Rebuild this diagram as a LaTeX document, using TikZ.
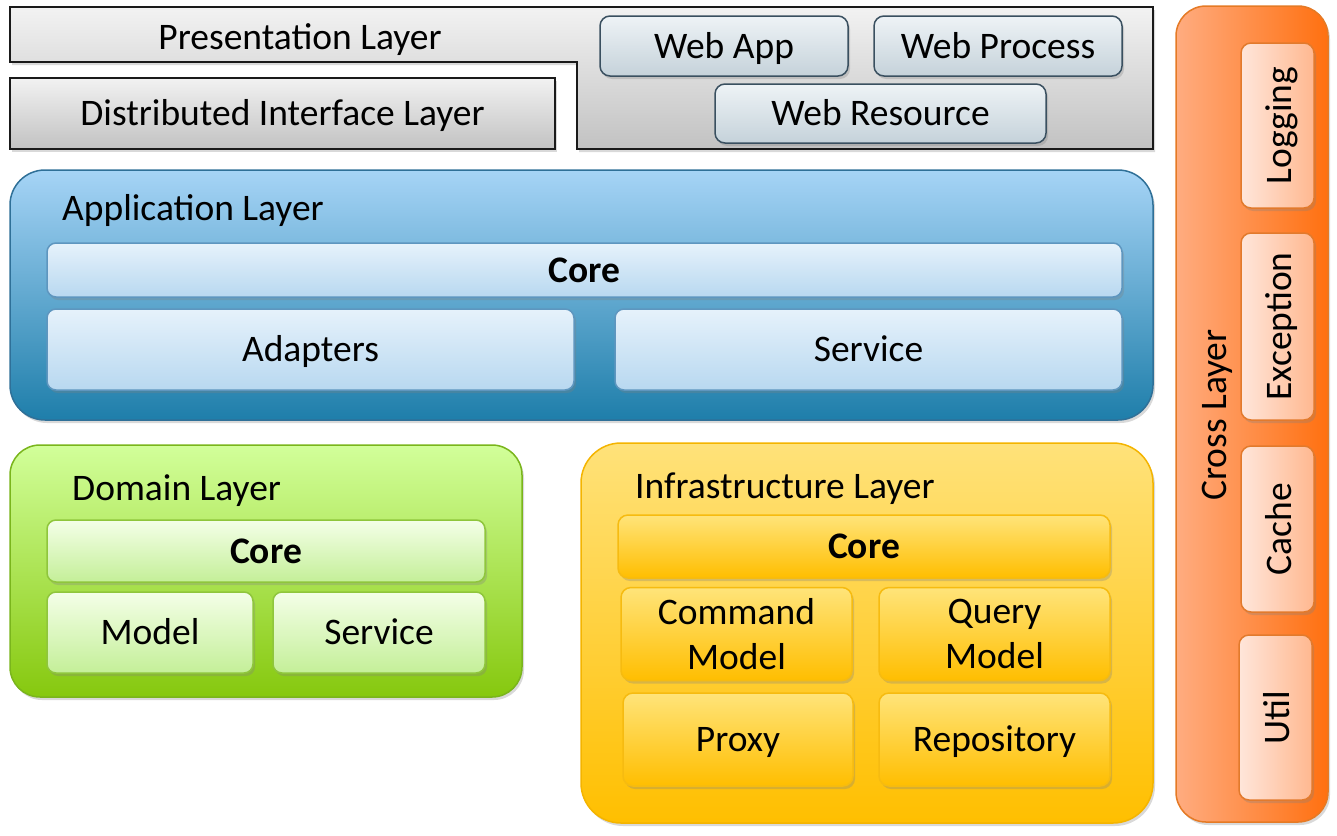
\documentclass[tikz,border=0pt]{standalone}
\usepackage{fontspec}
\setmainfont{Carlito}
\usetikzlibrary{shadows}
\definecolor{grayTop}{HTML}{F2F2F2}
\definecolor{grayBot}{HTML}{C2C2C2}
\definecolor{grayLine}{HTML}{1A1A1A}
\definecolor{webTop}{HTML}{EEF3F6}
\definecolor{webBot}{HTML}{C5D2DA}
\definecolor{webLine}{HTML}{3A5060}
\definecolor{appTop}{HTML}{A6D4F6}
\definecolor{appBot}{HTML}{1E7EAA}
\definecolor{appLine}{HTML}{2F7098}
\definecolor{appInTop}{HTML}{E6F2FB}
\definecolor{appInBot}{HTML}{B8D8F0}
\definecolor{appInLine}{HTML}{5E96BF}
\definecolor{domTop}{HTML}{D2FF9A}
\definecolor{domBot}{HTML}{86C80E}
\definecolor{domLine}{HTML}{7AB51C}
\definecolor{domInTop}{HTML}{F4FFE8}
\definecolor{domInBot}{HTML}{C4EF98}
\definecolor{domInLine}{HTML}{8FC63C}
\definecolor{infTop}{HTML}{FFE27A}
\definecolor{infBot}{HTML}{FFBF00}
\definecolor{infLine}{HTML}{F4B400}
\definecolor{infInTop}{HTML}{FFE47A}
\definecolor{infInBot}{HTML}{FFBE00}
\definecolor{infInLine}{HTML}{F6BB10}
\definecolor{crLeft}{HTML}{FFAC80}
\definecolor{crRight}{HTML}{FF7010}
\definecolor{crLine}{HTML}{E57A25}
\definecolor{crInLeft}{HTML}{FFE6DA}
\definecolor{crInRight}{HTML}{FFB890}
\definecolor{crInLine}{HTML}{E27A2C}
\tikzset{
  shd/.style={drop shadow={opacity=0.3,shadow xshift=2pt,shadow yshift=-3pt}},
  tfont/.style={font=\fontsize{37.5}{45}\selectfont, text=black, inner sep=0pt},
  txt/.style={tfont, text height=27pt, text depth=3pt},
  bfont/.style={font=\fontsize{37.5}{42}\selectfont\bfseries},
  grayshape/.style={shd, draw=grayLine, line width=1.5pt, top color=grayTop, bottom color=grayBot},
  webbox/.style={shd, draw=webLine, line width=1.5pt, rounded corners=10pt, top color=webTop, bottom color=webBot, txt},
  applayer/.style={shd, draw=appLine, line width=1.5pt, rounded corners=35pt, top color=appTop, bottom color=appBot},
  appbox/.style={shd, draw=appInLine, line width=1.5pt, rounded corners=9pt, top color=appInTop, bottom color=appInBot, txt},
  domlayer/.style={shd, draw=domLine, line width=1.5pt, rounded corners=30pt, top color=domTop, bottom color=domBot},
  dombox/.style={shd, draw=domInLine, line width=1.5pt, rounded corners=9pt, top color=domInTop, bottom color=domInBot, txt},
  inflayer/.style={shd, draw=infLine, line width=1.5pt, rounded corners=40pt, top color=infTop, bottom color=infBot},
  infshape/.style={shd, draw=infInLine, line width=1.5pt, rounded corners=10pt, top color=infInTop, bottom color=infInBot},
  infbox/.style={infshape, txt},
  infbox2/.style={infshape, tfont, align=center},
  crlayer/.style={shd, draw=crLine, line width=1.5pt, rounded corners=30pt, left color=crLeft, right color=crRight},
  crbox/.style={shd, draw=crInLine, line width=1.5pt, rounded corners=10pt, left color=crInLeft, right color=crInRight},
}
\begin{document}
\begin{tikzpicture}[x=1pt,y=-1pt]
\useasboundingbox (0,0) rectangle (1337,835);
% Presentation layer (stepped shape)
\path[grayshape] (10,7) -- (1153,7) -- (1153,149) -- (577,149) -- (577,62) -- (10,62) -- cycle;
\node[txt] (pres) at (300,37) {Presentation Layer};
\node[grayshape, minimum width=545pt, minimum height=71pt, txt] (dist) at (282.5,113.5) {Distributed Interface Layer};
\node[webbox, minimum width=248pt, minimum height=60pt] (webapp) at (724,46) {Web App};
\node[webbox, minimum width=248pt, minimum height=60pt] (webproc) at (998,46) {Web Process};
\node[webbox, minimum width=331pt, minimum height=59pt] (webres) at (880.5,113.5) {Web Resource};
% Application layer
\node[applayer, minimum width=1143pt, minimum height=250pt] (app) at (581.5,295) {};
\node[txt, anchor=west] (applbl) at (62,208) {Application Layer};
\node[appbox, minimum width=1075pt, minimum height=54pt, bfont] (appcore) at (584.5,270) {Core};
\node[appbox, minimum width=527pt, minimum height=81pt] (adapters) at (310.5,349.5) {Adapters};
\node[appbox, minimum width=507pt, minimum height=81pt] (appsvc) at (868.5,349.5) {Service};
% Domain layer
\node[domlayer, minimum width=512pt, minimum height=252pt] (dom) at (266,571) {};
\node[txt, anchor=west] (domlbl) at (72,488) {Domain Layer};
\node[dombox, minimum width=438pt, minimum height=62pt, bfont] (domcore) at (266,551) {Core};
\node[dombox, minimum width=206pt, minimum height=81pt] (model) at (150,632.5) {Model};
\node[dombox, minimum width=212pt, minimum height=81pt] (domsvc) at (379,632.5) {Service};
% Infrastructure layer
\node[inflayer, minimum width=572pt, minimum height=380pt] (inf) at (867,633) {};
\node[txt, anchor=west] (inflbl) at (635,486) {Infrastructure Layer};
\node[infbox, minimum width=492pt, minimum height=63pt, bfont] (infcore) at (864,546.5) {Core};
\node[infbox2, minimum width=231pt, minimum height=93pt] (cmd) at (736.5,634) {Command\\Model};
\node[infbox2, minimum width=231pt, minimum height=93pt] (qry) at (994.5,634) {Query\\Model};
\node[infbox, minimum width=230pt, minimum height=93pt] (proxy) at (738,739.5) {Proxy};
\node[infbox, minimum width=231pt, minimum height=93pt] (repo) at (994.5,739.5) {Repository};
% Cross layer
\node[crlayer, minimum width=152pt, minimum height=816pt] (cross) at (1252,414) {};
\node[txt, rotate=90] (crlbl) at (1214,415) {Cross Layer};
\node[crbox, minimum width=73pt, minimum height=165pt] (log) at (1277.5,125.5) {};
\node[txt, rotate=90] at (1279,125.5) {Logging};
\node[crbox, minimum width=73pt, minimum height=187pt] (exc) at (1277.5,326.5) {};
\node[txt, rotate=90] at (1279,326.5) {Exception};
\node[crbox, minimum width=73pt, minimum height=166pt] (cache) at (1277.5,529) {};
\node[txt, rotate=90] at (1279,529) {Cache};
\node[crbox, minimum width=73pt, minimum height=165pt] (util) at (1275.5,717.5) {};
\node[txt, rotate=90] at (1277,717.5) {Util};
\end{tikzpicture}
\end{document}
